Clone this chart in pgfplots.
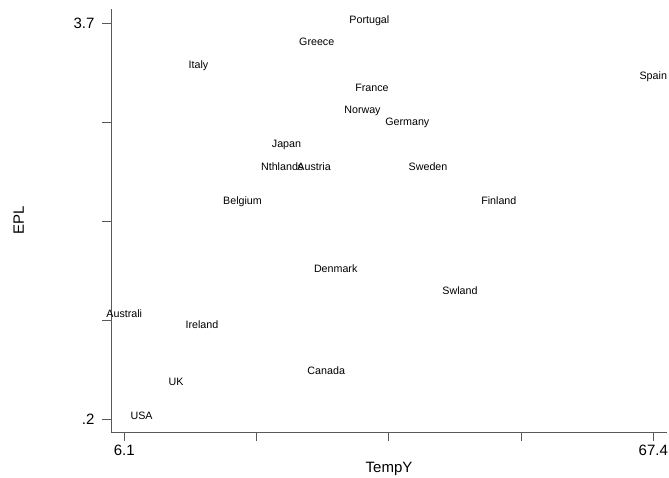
\documentclass[border=0pt]{standalone}
\usepackage{fontspec}
\setmainfont{Liberation Sans}
\usepackage{pgfplots}
\pgfplotsset{compat=1.18}
\definecolor{axgray}{gray}{0.35}
\begin{document}
\begin{tikzpicture}
\begin{axis}[
  scale only axis,
  width=556pt, height=423pt,
  xmin=4.56, xmax=68.99,
  ymin=0.088, ymax=3.826,
  axis x line*=bottom, axis y line*=left,
  axis line style={axgray, line width=0.8pt},
  every tick/.style={axgray, line width=0.8pt},
  tick align=outside,
  major tick length=9pt,
  xtick={6.1,21.425,36.75,52.075,67.4},
  xticklabels={6.1,,,,67.4},
  ytick={0.2,1.075,1.95,2.825,3.7},
  yticklabels={.2,,,,3.7},
  /pgf/number format/assume math mode=true,
  ticklabel style={font=\fontsize{15}{18}\selectfont, text=black},
  yticklabel style={xshift=-4pt},
  xlabel={TempY}, ylabel={EPL},
  xlabel style={at={(axis description cs:0.5,-0.0946)}, anchor=base, font=\fontsize{15}{18}\selectfont},
  ylabel style={at={(axis description cs:-0.1565,0.5)}, anchor=base, rotate=0, font=\fontsize{15}{18}\selectfont},
  clip=false,
]
\addplot[draw=none, mark=none, nodes near coords, point meta=explicit symbolic,
  every node near coord/.append style={anchor=base, inner sep=0pt, font=\fontsize{10.7}{12}\selectfont, text=black}]
  table[meta=label] {
x y label
34.5 3.7 Portugal
28.4 3.5 Greece
14.7 3.3 Italy
67.4 3.2 Spain
34.8 3.1 France
33.7 2.9 Norway
38.9 2.8 Germany
24.9 2.6 Japan
24.4 2.4 Nthlands
28.1 2.4 Austria
41.3 2.4 Sweden
19.8 2.1 Belgium
49.5 2.1 Finland
30.6 1.5 Denmark
45.0 1.3 Swland
6.1 1.1 Australi
15.1 1.0 Ireland
29.5 0.6 Canada
12.1 0.5 UK
8.1 0.2 USA
};
\end{axis}
\pgfresetboundingbox
\path (-111pt,-46pt) rectangle (558pt,432pt);
\end{tikzpicture}
\end{document}
